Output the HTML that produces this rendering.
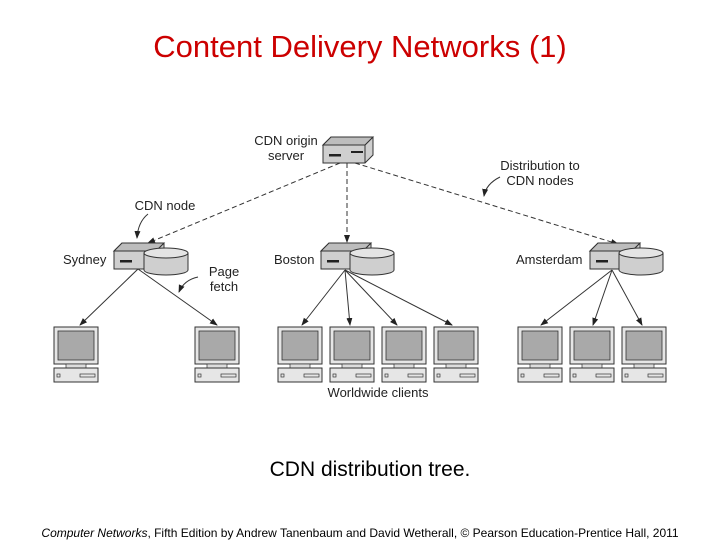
<!DOCTYPE html>
<html><head><meta charset="utf-8"><style>
body{margin:0;background:#fff;width:720px;height:540px;overflow:hidden;font-family:"Liberation Sans",sans-serif}
</style></head><body>
<svg width="720" height="540" viewBox="0 0 720 540" xmlns="http://www.w3.org/2000/svg" font-family="Liberation Sans, sans-serif">
<defs>
<marker id="a" markerWidth="8" markerHeight="8" refX="7" refY="4" orient="auto" markerUnits="userSpaceOnUse"><path d="M0,1 L8,4 L0,7 Z" fill="#222"/></marker>
<g id="comp">
<rect x="0" y="0" width="44" height="37" fill="#e6e6e6" stroke="#333" stroke-width="1"/>
<rect x="4" y="4" width="36" height="29" fill="#a9a9a9" stroke="#333" stroke-width="0.8"/>
<rect x="12" y="37" width="20" height="4" fill="#ddd" stroke="#333" stroke-width="0.7"/>
<rect x="0" y="41" width="44" height="14" fill="#e6e6e6" stroke="#333" stroke-width="1"/>
<rect x="3" y="47" width="3" height="3" fill="none" stroke="#333" stroke-width="0.7"/>
<rect x="26" y="47" width="15" height="3" fill="none" stroke="#333" stroke-width="0.7"/>
</g>
<g id="srv">
<path d="M0,8 L8,0 L50,0 L50,18 L42,26 L0,26 Z" fill="#cfcfcf" stroke="#333" stroke-width="1"/>
<path d="M0,8 L42,8 L50,0 M42,8 L42,26" fill="none" stroke="#333" stroke-width="1"/>
<path d="M0,8 L8,0 L50,0 L42,8 Z" fill="#bdbdbd" stroke="#333" stroke-width="1"/>
<rect x="6" y="17" width="12" height="2.5" fill="#222"/>
</g>
<g id="cyl">
<path d="M0,5 L0,22 A22,5 0 0 0 44,22 L44,5" fill="#cfcfcf" stroke="#333" stroke-width="1"/>
<ellipse cx="22" cy="5" rx="22" ry="5" fill="#e4e4e4" stroke="#333" stroke-width="1"/>
</g>
</defs>
<text x="360" y="57" font-size="31" fill="#cc0000" text-anchor="middle">Content Delivery Networks (1)</text>

<!-- origin server -->
<g transform="translate(323,137)"><use href="#srv"/><rect x="28" y="14" width="12" height="2" fill="#222"/></g>
<text x="286" y="145" font-size="13" fill="#222" text-anchor="middle">CDN origin</text>
<text x="286" y="160" font-size="13" fill="#222" text-anchor="middle">server</text>
<text x="540" y="170" font-size="13" fill="#222" text-anchor="middle">Distribution to</text>
<text x="540" y="185" font-size="13" fill="#222" text-anchor="middle">CDN nodes</text>
<text x="165" y="210" font-size="13" fill="#222" text-anchor="middle">CDN node</text>
<text x="224" y="276" font-size="13" fill="#222" text-anchor="middle">Page</text>
<text x="224" y="291" font-size="13" fill="#222" text-anchor="middle">fetch</text>

<!-- dashed distribution -->
<g stroke="#333" stroke-width="1" stroke-dasharray="5,3" fill="none">
<line x1="340" y1="163" x2="148" y2="243" marker-end="url(#a)"/>
<line x1="347" y1="163" x2="347" y2="242" marker-end="url(#a)"/>
<line x1="355" y1="163" x2="618" y2="244" marker-end="url(#a)"/>
</g>
<!-- curved label arrows -->
<g stroke="#333" stroke-width="1" fill="none">
<path d="M148,214 Q138,222 137,238" marker-end="url(#a)"/>
<path d="M500,177 Q486,184 484,196" marker-end="url(#a)"/>
<path d="M198,277 Q184,280 179,292" marker-end="url(#a)"/>
</g>

<!-- nodes -->
<text x="63" y="264" font-size="13" fill="#222">Sydney</text>
<g transform="translate(114,243)"><use href="#srv"/></g>
<g transform="translate(144,248)"><use href="#cyl"/></g>
<text x="274" y="264" font-size="13" fill="#222">Boston</text>
<g transform="translate(321,243)"><use href="#srv"/></g>
<g transform="translate(350,248)"><use href="#cyl"/></g>
<text x="516" y="264" font-size="13" fill="#222">Amsterdam</text>
<g transform="translate(590,243)"><use href="#srv"/></g>
<g transform="translate(619,248)"><use href="#cyl"/></g>

<!-- solid fetch lines -->
<g stroke="#333" stroke-width="1" fill="none">
<line x1="138" y1="269" x2="80" y2="325" marker-end="url(#a)"/>
<line x1="138" y1="269" x2="217" y2="325" marker-end="url(#a)"/>
<line x1="345" y1="270" x2="302" y2="325" marker-end="url(#a)"/>
<line x1="345" y1="270" x2="350" y2="325" marker-end="url(#a)"/>
<line x1="345" y1="270" x2="397" y2="325" marker-end="url(#a)"/>
<line x1="345" y1="270" x2="452" y2="325" marker-end="url(#a)"/>
<line x1="612" y1="270" x2="541" y2="325" marker-end="url(#a)"/>
<line x1="612" y1="270" x2="593" y2="325" marker-end="url(#a)"/>
<line x1="612" y1="270" x2="642" y2="325" marker-end="url(#a)"/>
</g>

<!-- computers -->
<use href="#comp" x="54" y="327"/>
<use href="#comp" x="195" y="327"/>
<use href="#comp" x="278" y="327"/>
<use href="#comp" x="330" y="327"/>
<use href="#comp" x="382" y="327"/>
<use href="#comp" x="434" y="327"/>
<use href="#comp" x="518" y="327"/>
<use href="#comp" x="570" y="327"/>
<use href="#comp" x="622" y="327"/>

<text x="378" y="397" font-size="13" fill="#222" text-anchor="middle">Worldwide clients</text>
<text x="370" y="476" font-size="21" fill="#000" text-anchor="middle">CDN distribution tree.</text>
<text x="360" y="537" font-size="12" fill="#000" text-anchor="middle"><tspan font-style="italic">Computer Networks</tspan>, Fifth Edition by Andrew Tanenbaum and David Wetherall, © Pearson Education-Prentice Hall, 2011</text>
</svg>
</body></html>
